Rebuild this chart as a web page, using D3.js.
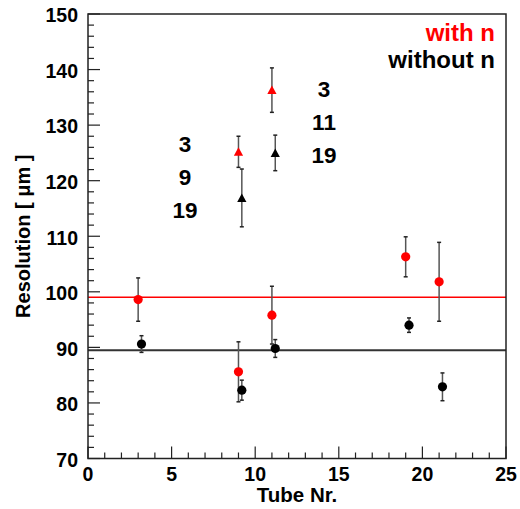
<!DOCTYPE html>
<html><head><meta charset="utf-8">
<script src="https://cdn.jsdelivr.net/npm/d3@7"></script>
<style>body{margin:0;background:#fff}svg{display:block}text{font-family:"Liberation Sans",Arial,sans-serif;font-weight:bold}</style>
</head><body>
<script>
// Data
const withN_circle_x = [3, 9, 11, 19, 21];
const withN_circle_y = [98.6, 85.6, 95.8, 106.3, 101.8];
const withN_circle_err = [3.9, 5.4, 5.2, 3.6, 7.1];
const withN_tri_x = [9, 11];
const withN_tri_y = [125.2, 136.3];
const withN_tri_err = [2.8, 4.0];
const withoutN_circle_x = [3.2, 9.2, 11.2, 19.2, 21.2];
const withoutN_circle_y = [90.6, 82.3, 89.8, 94.0, 82.9];
const withoutN_circle_err = [1.5, 1.8, 1.6, 1.3, 2.5];
const withoutN_tri_x = [9.2, 11.2];
const withoutN_tri_y = [116.9, 125.0];
const withoutN_tri_err = [5.2, 3.2];
const meanWithN = 99.0;
const meanWithoutN = 89.5;
const xTicks = [0, 5, 10, 15, 20, 25];
const yTicks = [70, 80, 90, 100, 110, 120, 130, 140, 150];
const groupA = ["3", "9", "19"];
const groupB = ["3", "11", "19"];

const W = 520, H = 509;
const L = 88, R = 506, T = 14, B = 458.5;
const svg = d3.select("body").append("svg").attr("width", W).attr("height", H);
const x = d3.scaleLinear().domain([0, 25]).range([L, R]);
const y = d3.scaleLinear().domain([70, 150]).range([B, T]);

function label(px, py, str, size, anchor, color, rot) {
  svg.append("text")
    .attr("transform", `translate(${px},${py})${rot ? " rotate(" + rot + ")" : ""}`)
    .attr("text-anchor", anchor).attr("font-size", size).attr("fill", color || "#000").text(str);
}

// mean lines
svg.append("line").attr("x1", L).attr("x2", R).attr("y1", y(meanWithN)).attr("y2", y(meanWithN))
  .attr("stroke", "#ff0000").attr("stroke-width", 1.5);
svg.append("line").attr("x1", L).attr("x2", R).attr("y1", y(meanWithoutN)).attr("y2", y(meanWithoutN))
  .attr("stroke", "#333").attr("stroke-width", 2);

function zipPts(xs, ys, es) { return xs.map((v, i) => ({x: v, y: ys[i], e: es[i]})); }

function errBars(pts, color) {
  const g = svg.append("g");
  pts.forEach(p => {
    const cx = x(p.x);
    g.append("line").attr("x1", cx).attr("x2", cx).attr("y1", y(p.y + p.e)).attr("y2", y(p.y - p.e))
      .attr("stroke", color).attr("stroke-width", 1.5);
    [p.y + p.e, p.y - p.e].forEach(v => {
      g.append("line").attr("x1", cx - 2).attr("x2", cx + 2).attr("y1", y(v)).attr("y2", y(v))
        .attr("stroke", "#222").attr("stroke-width", 1.5);
    });
  });
}
function circles(pts, color) {
  svg.append("g").selectAll("circle").data(pts).join("circle")
    .attr("cx", d => x(d.x)).attr("cy", d => y(d.y)).attr("r", 4.6).attr("fill", color);
}
function triangles(pts, color) {
  svg.append("g").selectAll("path").data(pts).join("path")
    .attr("d", d => { const cx = x(d.x), cy = y(d.y); return `M${cx - 4.6},${cy + 4}L${cx + 4.6},${cy + 4}L${cx},${cy - 4.5}Z`; })
    .attr("fill", color);
}

const rc = zipPts(withN_circle_x, withN_circle_y, withN_circle_err);
const rt = zipPts(withN_tri_x, withN_tri_y, withN_tri_err);
const bc = zipPts(withoutN_circle_x, withoutN_circle_y, withoutN_circle_err);
const bt = zipPts(withoutN_tri_x, withoutN_tri_y, withoutN_tri_err);

errBars(bc, "#555"); errBars(bt, "#555");
errBars(rc, "#555"); errBars(rt, "#555");
circles(bc, "#000"); triangles(bt, "#000");
circles(rc, "#ff0000"); triangles(rt, "#ff0000");

// frame
svg.append("rect").attr("x", L).attr("y", T).attr("width", R - L).attr("height", B - T)
  .attr("fill", "none").attr("stroke", "#222").attr("stroke-width", 1.5);

// ticks (inside)
const ax = svg.append("g").attr("stroke", "#222").attr("stroke-width", 1.2);
d3.range(0, 25.001, 1).forEach(v => {
  const major = Math.abs(v % 5) < 1e-9;
  ax.append("line").attr("x1", x(v)).attr("x2", x(v)).attr("y1", B).attr("y2", B - (major ? 12 : 6));
});
d3.range(70, 150.001, 2).forEach(v => {
  const major = Math.abs(v % 10) < 1e-9;
  ax.append("line").attr("y1", y(v)).attr("y2", y(v)).attr("x1", L).attr("x2", L + (major ? 12 : 6));
});

// tick labels
xTicks.forEach(d => label(x(d), 481, d, 19.5, "middle"));
yTicks.forEach(d => label(78, y(d) + 8.3, d, 19.5, "end"));

// axis titles
label((L + R) / 2, 502, "Tube Nr.", 20.5, "middle");
label(29.5, (T + B) / 2, "Resolution [ μm ]", 20, "middle", "#000", -90);

// legend
label(495, 41, "with n", 24, "end", "#ff0000");
label(495, 68, "without n", 24, "end", "#000");

// annotations
const baseA = [152, 185, 218];
groupA.forEach((t, i) => label(185, baseA[i], t, 22.5, "middle"));
const baseB = [97, 130, 163];
groupB.forEach((t, i) => label(324, baseB[i], t, 22.5, "middle"));
</script>
</body></html>
